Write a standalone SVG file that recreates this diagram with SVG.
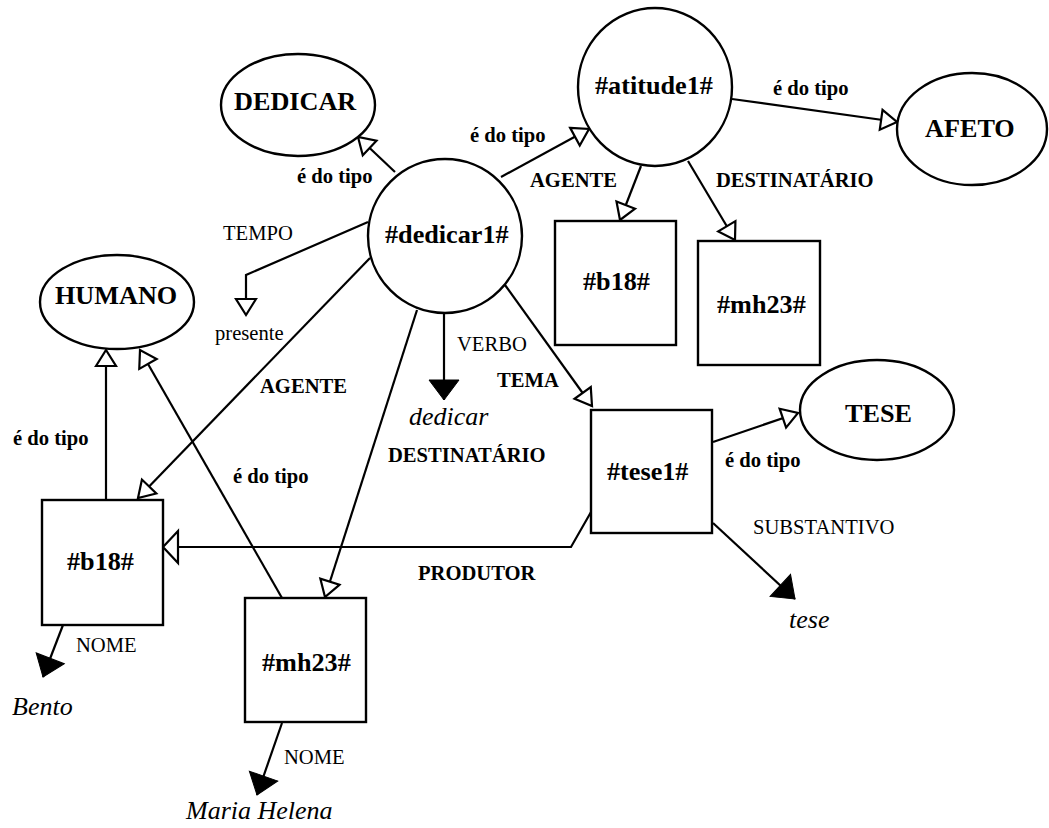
<svg xmlns="http://www.w3.org/2000/svg" width="1049" height="828" viewBox="0 0 1049 828">
  <style>
    .shape { fill: #fff; stroke: #000; stroke-width: 2.4; }
    .edge { fill: none; stroke: #000; stroke-width: 2.2; }
    .big { font-family: "Liberation Serif", "Times New Roman", serif; font-weight: bold; font-size: 26.2px; fill: #000; }
    .rel { font-family: "Liberation Serif", "Times New Roman", serif; font-weight: bold; font-size: 20.6px; fill: #000; }
    .attr { font-family: "Liberation Serif", "Times New Roman", serif; font-size: 20.6px; fill: #000; }
    .val { font-family: "Liberation Serif", "Times New Roman", serif; font-style: italic; font-size: 26px; fill: #000; }
  </style>
  <defs>
    <marker id="open" markerWidth="24" markerHeight="24" refX="16" refY="10" orient="auto" markerUnits="userSpaceOnUse" overflow="visible">
      <path d="M0,0 L16,10 L0,20 Z" fill="#fff" stroke="#000" stroke-width="2.2"/>
    </marker>
    <marker id="openWide" markerWidth="24" markerHeight="36" refX="15" refY="16" orient="auto" markerUnits="userSpaceOnUse" overflow="visible">
      <path d="M0,0 L15,16 L0,32 Z" fill="#fff" stroke="#000" stroke-width="2.2"/>
    </marker>
    <marker id="solid" markerWidth="24" markerHeight="32" refX="20" refY="15" orient="auto" markerUnits="userSpaceOnUse" overflow="visible">
      <path d="M0,0 L20,15 L0,30 Z" fill="#000" stroke="#000" stroke-width="1"/>
    </marker>
  </defs>

  <!-- connectors -->
  <g id="connectors">
    <line class="edge" x1="395" y1="172" x2="358" y2="137" marker-end="url(#open)"/>
    <line class="edge" x1="501" y1="177" x2="589" y2="129" marker-end="url(#open)"/>
    <line class="edge" x1="732" y1="99" x2="897" y2="122" marker-end="url(#open)"/>
    <line class="edge" x1="641" y1="166" x2="620" y2="220" marker-end="url(#open)"/>
    <line class="edge" x1="688" y1="161" x2="735" y2="240" marker-end="url(#open)"/>
    <polyline class="edge" points="368,222 246,275 246,315" marker-end="url(#open)"/>
    <line class="edge" x1="370" y1="258" x2="138" y2="498" marker-end="url(#open)"/>
    <line class="edge" x1="417" y1="310" x2="325" y2="597" marker-end="url(#open)"/>
    <line class="edge" x1="444" y1="313" x2="444" y2="400" marker-end="url(#solid)"/>
    <line class="edge" x1="505" y1="285" x2="592" y2="406" marker-end="url(#open)"/>
    <line class="edge" x1="713" y1="442" x2="798" y2="413" marker-end="url(#open)"/>
    <line class="edge" x1="713" y1="523" x2="795" y2="599" marker-end="url(#solid)"/>
    <polyline class="edge" points="591,512 571,547 163,547" marker-end="url(#openWide)"/>
    <line class="edge" x1="106" y1="500" x2="106" y2="350" marker-end="url(#open)"/>
    <line class="edge" x1="282" y1="598" x2="140" y2="350" marker-end="url(#open)"/>
    <line class="edge" x1="63" y1="625" x2="43" y2="677" marker-end="url(#solid)"/>
    <line class="edge" x1="282" y1="723" x2="257" y2="795" marker-end="url(#solid)"/>
  </g>

  <!-- concept types -->
  <g id="dedicar-type">
    <ellipse class="shape" cx="298" cy="105" rx="77" ry="51"/>
    <text class="big" x="234" y="110">DEDICAR</text>
  </g>
  <g id="humano-type">
    <ellipse class="shape" cx="117" cy="302" rx="77" ry="47"/>
    <text class="big" x="55" y="304">HUMANO</text>
  </g>
  <g id="afeto-type">
    <ellipse class="shape" cx="972" cy="129" rx="75" ry="56"/>
    <text class="big" x="925" y="137">AFETO</text>
  </g>
  <g id="tese-type">
    <ellipse class="shape" cx="877" cy="410" rx="77" ry="50"/>
    <text class="big" x="845" y="422">TESE</text>
  </g>

  <!-- event instances -->
  <g id="dedicar1">
    <ellipse class="shape" cx="445" cy="236" rx="77" ry="77"/>
    <text class="big" x="385" y="243">#dedicar1#</text>
  </g>
  <g id="atitude1">
    <ellipse class="shape" cx="655" cy="87" rx="77" ry="79"/>
    <text class="big" x="595" y="94">#atitude1#</text>
  </g>

  <!-- entity instances -->
  <g id="b18-upper">
    <rect class="shape" x="555" y="221" width="121" height="124"/>
    <text class="big" x="583" y="290">#b18#</text>
  </g>
  <g id="mh23-upper">
    <rect class="shape" x="698" y="241" width="122" height="124"/>
    <text class="big" x="717" y="313">#mh23#</text>
  </g>
  <g id="tese1">
    <rect class="shape" x="591" y="410" width="121" height="123"/>
    <text class="big" x="607" y="480">#tese1#</text>
  </g>
  <g id="b18">
    <rect class="shape" x="42" y="500" width="121" height="125"/>
    <text class="big" x="67" y="570">#b18#</text>
  </g>
  <g id="mh23">
    <rect class="shape" x="245" y="598" width="121" height="124"/>
    <text class="big" x="262" y="671">#mh23#</text>
  </g>

  <!-- relation labels -->
  <g id="labels">
    <text class="rel" x="297" y="183">é do tipo</text>
    <text class="rel" x="470" y="142">é do tipo</text>
    <text class="rel" x="773" y="95">é do tipo</text>
    <text class="rel" x="530" y="187">AGENTE</text>
    <text class="rel" x="716" y="187">DESTINATÁRIO</text>
    <text class="attr" x="223" y="240">TEMPO</text>
    <text class="attr" x="215" y="340">presente</text>
    <text class="attr" x="457" y="351">VERBO</text>
    <text class="rel" x="497" y="387">TEMA</text>
    <text class="val" x="409" y="425">dedicar</text>
    <text class="rel" x="388" y="462">DESTINATÁRIO</text>
    <text class="rel" x="260" y="393">AGENTE</text>
    <text class="rel" x="13" y="445">é do tipo</text>
    <text class="rel" x="233" y="483">é do tipo</text>
    <text class="rel" x="725" y="467">é do tipo</text>
    <text class="attr" x="753" y="534">SUBSTANTIVO</text>
    <text class="val" x="789" y="628">tese</text>
    <text class="rel" x="418" y="580">PRODUTOR</text>
    <text class="attr" x="76" y="652">NOME</text>
    <text class="val" x="12" y="715">Bento</text>
    <text class="attr" x="284" y="764">NOME</text>
    <text class="val" x="186" y="819">Maria Helena</text>
  </g>
</svg>
